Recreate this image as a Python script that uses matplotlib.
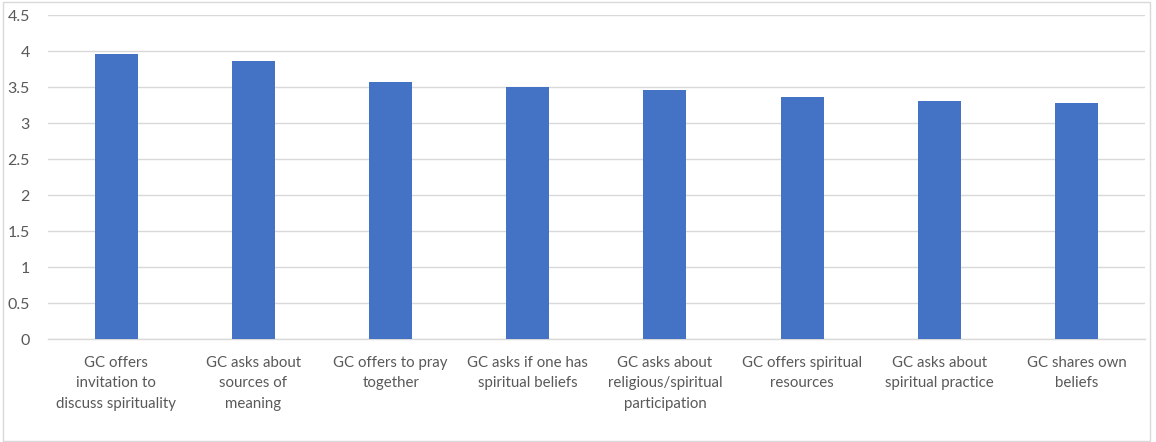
import matplotlib
matplotlib.use("Agg")
import matplotlib.pyplot as plt
from matplotlib.patches import Rectangle

categories = [
    "GC offers\ninvitation to\ndiscuss spirituality",
    "GC asks about\nsources of\nmeaning",
    "GC offers to pray\ntogether",
    "GC asks if one has\nspiritual beliefs",
    "GC asks about\nreligious/spiritual\nparticipation",
    "GC offers spiritual\nresources",
    "GC asks about\nspiritual practice",
    "GC shares own\nbeliefs",
]
values = [3.97, 3.87, 3.57, 3.51, 3.47, 3.37, 3.31, 3.28]
yticks = [0, 0.5, 1, 1.5, 2, 2.5, 3, 3.5, 4, 4.5]
ytick_labels = ["0", "0.5", "1", "1.5", "2", "2.5", "3", "3.5", "4", "4.5"]

plt.rcParams['font.family'] = ['Lato', 'DejaVu Sans']

fig = plt.figure(figsize=(11.56, 4.42), dpi=100)
ax = fig.add_axes([0.0413, 0.233, 0.9492, 0.732])

x = list(range(len(categories)))
ax.bar(x, values, width=0.314, color="#4472C4", zorder=3)

ax.set_xlim(-0.5, len(categories) - 0.5)
ax.set_ylim(0, 4.5)
ax.set_yticks(yticks)
ax.set_yticklabels(ytick_labels)
ax.set_xticks(x)
ax.set_xticklabels(categories, linespacing=1.6)

ax.grid(axis="y", color="#d9d9d9", linewidth=1.0, zorder=0)
for s in ["top", "right", "left"]:
    ax.spines[s].set_visible(False)
ax.spines["bottom"].set_color("#d9d9d9")
ax.spines["bottom"].set_linewidth(1.0)
ax.tick_params(axis="both", length=0, labelcolor="#595959")
ax.tick_params(axis="x", pad=12, labelsize=10.8)
ax.tick_params(axis="y", pad=13, labelsize=11.5)

fig.patches.append(Rectangle((0.003, 0.003), 0.992, 0.993, transform=fig.transFigure,
                             fill=False, edgecolor="#d9d9d9", linewidth=1.0))

fig.savefig("out.png", dpi=100)
